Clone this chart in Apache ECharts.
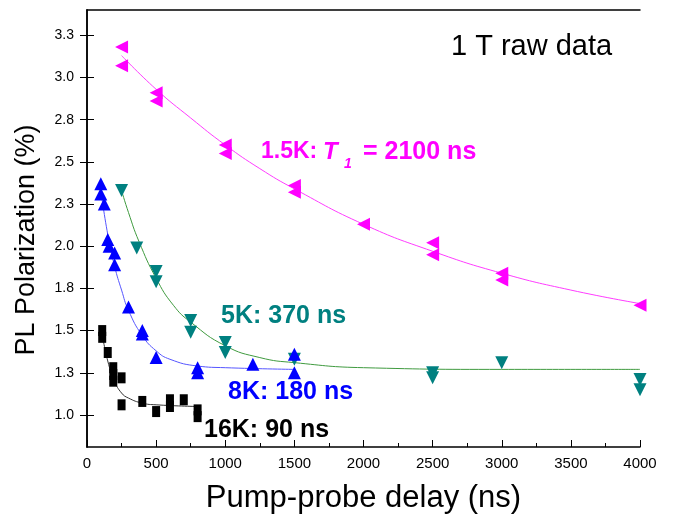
<!DOCTYPE html>
<html>
<head>
<meta charset="utf-8">
<script src="https://cdn.jsdelivr.net/npm/echarts@6/dist/echarts.min.js"></script>
<style>
html, body { margin: 0; padding: 0; background: #fff; }
#chart { width: 675px; height: 515px; }
</style>
</head>
<body>
<div id="chart"></div>
<script>
let chart = echarts.init(document.getElementById('chart'));

// y ticks sit every 0.25 but the labels were printed with one decimal
let yTicks = [1.0, 1.25, 1.5, 1.75, 2.0, 2.25, 2.5, 2.75, 3.0, 3.25];
let yTickLabels = ['1.0', '1.3', '1.5', '1.8', '2.0', '2.3', '2.5', '2.8', '3.0', '3.3'];

// 1.5K (magenta, left triangles)
let magentaX = [250, 250, 500, 500, 1000, 1000, 1500, 1500, 2000, 2500, 2500, 3000, 3000, 4000];
let magentaY = [3.18, 3.07, 2.91, 2.86, 2.60, 2.55, 2.36, 2.32, 2.13, 2.02, 1.95, 1.84, 1.80, 1.65];
let magentaFitX = [250, 500, 750, 1000, 1250, 1500, 2000, 2500, 3000, 3500, 4000];
let magentaFitY = [3.13, 2.93, 2.76, 2.60, 2.46, 2.34, 2.13, 1.97, 1.84, 1.74, 1.66];

// 5K (teal, down triangles)
let tealX = [250, 360, 500, 500, 750, 750, 1000, 1000, 1500, 2500, 2500, 3000, 4000, 4000];
let tealY = [2.33, 1.99, 1.85, 1.79, 1.56, 1.49, 1.43, 1.37, 1.33, 1.25, 1.22, 1.31, 1.21, 1.15];
let tealFitX = [250, 300, 375, 500, 625, 750, 1000, 1250, 1500, 2000, 3000, 4000];
let tealFitY = [2.33, 2.20, 2.03, 1.81, 1.65, 1.55, 1.41, 1.34, 1.31, 1.28, 1.27, 1.27];

// 8K (blue, up triangles)
let blueX = [100, 100, 125, 150, 160, 200, 200, 300, 400, 400, 500, 800, 800, 1200, 1500, 1500];
let blueY = [2.37, 2.31, 2.25, 2.04, 2.00, 1.96, 1.89, 1.64, 1.50, 1.48, 1.34, 1.28, 1.25, 1.30, 1.36, 1.25];
let blueFitX = [100, 150, 200, 250, 300, 400, 500, 600, 800, 1000, 1500];
let blueFitY = [2.33, 2.07, 1.88, 1.74, 1.62, 1.47, 1.38, 1.33, 1.29, 1.28, 1.27];

// 16K (black squares)
let blackX = [110, 110, 150, 190, 190, 190, 250, 250, 400, 500, 600, 600, 700, 800, 800];
let blackY = [1.50, 1.46, 1.37, 1.28, 1.24, 1.20, 1.22, 1.06, 1.08, 1.02, 1.09, 1.05, 1.09, 1.03, 0.99];
let blackFitX = [110, 150, 200, 250, 300, 400, 500, 800];
let blackFitY = [1.48, 1.32, 1.20, 1.13, 1.10, 1.07, 1.06, 1.05];

function pairs(xs, ys) {
    return xs.map(function (x, i) { return [x, ys[i]]; });
}

let font = '"Liberation Sans", Arial, sans-serif';

function points(name, xs, ys, color, symbol, rotate, size) {
    return {
        name: name,
        type: 'scatter',
        data: pairs(xs, ys),
        symbol: symbol,
        symbolRotate: rotate,
        symbolSize: size,
        itemStyle: { color: color, opacity: 1 },
        clip: false,
        z: 3
    };
}

function fit(name, xs, ys, color) {
    return {
        name: name,
        type: 'line',
        data: pairs(xs, ys),
        smooth: true,
        showSymbol: false,
        lineStyle: { color: color, width: 1 },
        z: 2
    };
}

let option = {
    animation: false,
    grid: { left: 87, right: 35, top: 10, bottom: 68, outerBoundsMode: 'none' },
    xAxis: [
        {
            type: 'value',
            min: 0,
            max: 4000,
            interval: 500,
            name: 'Pump-probe delay (ns)',
            nameLocation: 'middle',
            nameGap: 36,
            nameTextStyle: { fontFamily: font, fontSize: 31, color: '#000' },
            axisLine: { lineStyle: { color: '#000', width: 1.5 } },
            axisTick: { inside: true, length: 7, lineStyle: { color: '#000' } },
            minorTick: { show: true, splitNumber: 2, length: 4, lineStyle: { color: '#000' } },
            axisLabel: {
                fontFamily: font, fontSize: 15, color: '#000', margin: 9,
                formatter: function (v) { return String(v); }
            },
            splitLine: { show: false }
        },
        {
            type: 'value',
            position: 'top',
            min: 0,
            max: 4000,
            axisLine: { show: true, lineStyle: { color: '#000', width: 1.5 } },
            axisTick: { show: false },
            axisLabel: { show: false },
            splitLine: { show: false }
        }
    ],
    yAxis: [
        {
            type: 'value',
            min: 0.81,
            max: 3.4,
            axisLine: { show: true, lineStyle: { color: '#000', width: 1.5 } },
            axisTick: { inside: true, length: 7, customValues: yTicks, lineStyle: { color: '#000' } },
            axisLabel: {
                fontFamily: font,
                fontSize: 14,
                color: '#000',
                margin: 13,
                customValues: yTicks,
                formatter: function (v) {
                    let i = yTicks.indexOf(v);
                    return i >= 0 ? yTickLabels[i] : '';
                }
            },
            splitLine: { show: false }
        },
        {
            type: 'value',
            position: 'right',
            min: 0.81,
            max: 3.4,
            axisLine: { show: true, lineStyle: { color: '#000', width: 1.5 } },
            axisTick: { inside: true, length: 7, customValues: yTicks, lineStyle: { color: '#000' } },
            axisLabel: { show: false },
            splitLine: { show: false }
        }
    ],
    series: [
        fit('1.5K fit', magentaFitX, magentaFitY, '#ff3cff'),
        fit('5K fit', tealFitX, tealFitY, '#3f9a3f'),
        fit('8K fit', blueFitX, blueFitY, '#5555ff'),
        fit('16K fit', blackFitX, blackFitY, '#333333'),
        points('1.5K', magentaX, magentaY, '#ff00ff', 'triangle', 90, 13),
        points('5K', tealX, tealY, '#008080', 'triangle', 180, 13),
        points('8K', blueX, blueY, '#0000ff', 'triangle', 0, 13),
        points('16K', blackX, blackY, '#000000', 'rect', 0, [8, 11])
    ],
    graphic: [
        // y axis title, rotated
        { type: 'text', x: 27, y: 240, rotation: Math.PI / 2, style: { text: 'PL Polarization (%)', font: '27px ' + font, fill: '#000', align: 'center', verticalAlign: 'middle' } },
        { type: 'text', x: 451, y: 47, style: { text: '1 T raw data', font: '29px ' + font, fill: '#000', verticalAlign: 'middle' } },
        { type: 'text', x: 261, y: 152, style: { text: '1.5K:', font: 'bold 23px ' + font, fill: '#ff00ff', verticalAlign: 'middle' } },
        { type: 'text', x: 323, y: 152, style: { text: 'T', font: 'italic bold 24px ' + font, fill: '#ff00ff', verticalAlign: 'middle' } },
        { type: 'text', x: 344, y: 164, style: { text: '1', font: 'italic bold 14px ' + font, fill: '#ff00ff', verticalAlign: 'middle' } },
        { type: 'text', x: 363, y: 152, style: { text: '= 2100 ns', font: 'bold 25px ' + font, fill: '#ff00ff', verticalAlign: 'middle' } },
        { type: 'text', x: 221, y: 316, style: { text: '5K: 370 ns', font: 'bold 25px ' + font, fill: '#008080', verticalAlign: 'middle' } },
        { type: 'text', x: 228, y: 392, style: { text: '8K: 180 ns', font: 'bold 25px ' + font, fill: '#0000ff', verticalAlign: 'middle' } },
        { type: 'text', x: 204, y: 430, style: { text: '16K: 90 ns', font: 'bold 25px ' + font, fill: '#000', verticalAlign: 'middle' } }
    ]
};

chart.setOption(option);
</script>
</body>
</html>
